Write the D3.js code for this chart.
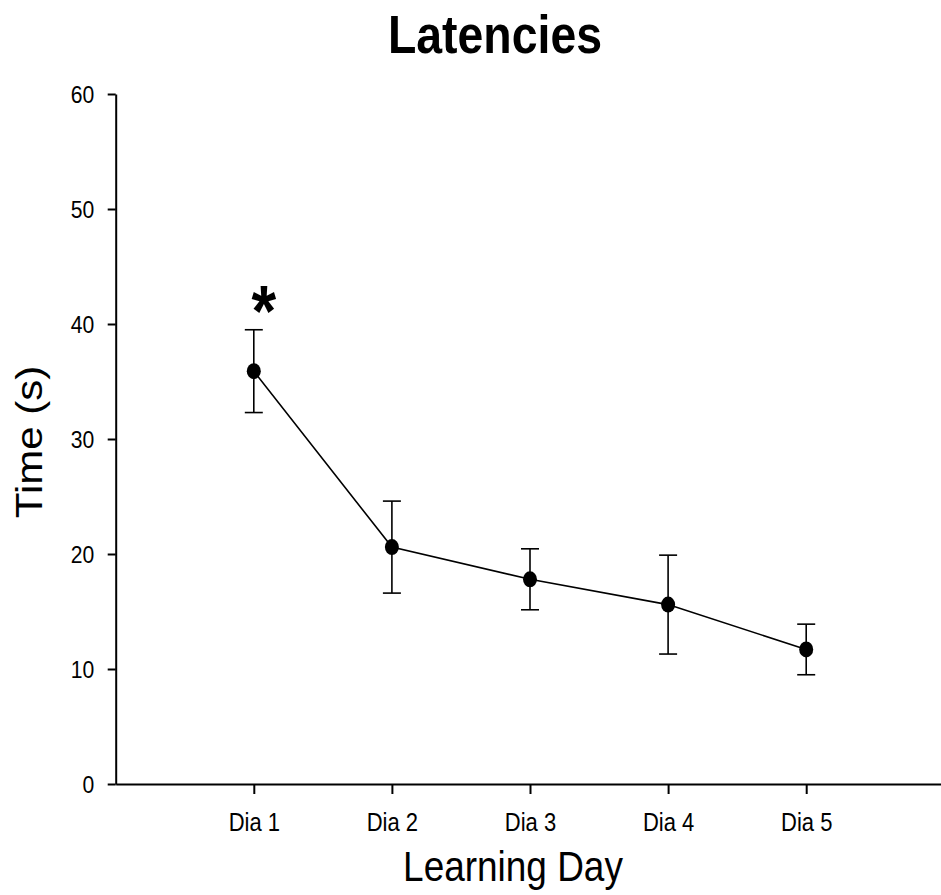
<!DOCTYPE html>
<html>
<head>
<meta charset="utf-8">
<script src="https://cdn.jsdelivr.net/npm/d3@7"></script>
<style>
  body { margin: 0; background: #fff; }
  svg { display: block; font-family: "Liberation Sans", Arial, sans-serif; }
</style>
</head>
<body>
<div id="chart"></div>
<script>
// data
var days = ["Dia 1", "Dia 2", "Dia 3", "Dia 4", "Dia 5"];
var latency = [35.9, 20.6, 17.8, 15.6, 11.7];
var sem = [3.6, 4.0, 2.65, 4.3, 2.2];
var yTicks = [0, 10, 20, 30, 40, 50, 60];
var significant = ["Dia 1"];

var svgWidth = 941;
var svgHeight = 895;
var squeeze = 0.88; // the original text looks a bit narrow

var svg = d3.select("#chart")
  .append("svg")
  .attr("width", svgWidth)
  .attr("height", svgHeight);

// scales
var x = d3.scaleLinear().domain([0, days.length + 1]).range([115.7, 944.3]);
var y = d3.scaleLinear().domain([0, 60]).range([784, 94]);

var data = days.map(function(d, i) {
  return { day: d, pos: i + 1, mean: latency[i], err: sem[i] };
});

//Axis
var leftAxis = d3.axisLeft(y).tickValues(yTicks).tickSize(8).tickSizeOuter(0);
var bottomAxis = d3.axisBottom(x)
  .tickValues(d3.range(1, days.length + 1))
  .tickFormat(function(d) { return days[d - 1]; })
  .tickSize(10).tickSizeOuter(0);

var yAxisG = svg.append("g")
  .attr("transform", "translate(" + x(0) + ",0)")
  .call(leftAxis);

yAxisG.selectAll("text")
  .attr("font-size", 24)
  .attr("font-family", "Liberation Sans, Arial, sans-serif")
  .attr("fill", "#000")
  .attr("x", -21.4 / squeeze)
  .attr("dy", "0.36em")
  .attr("transform", "scale(" + squeeze + ",1)");

var xAxisG = svg.append("g")
  .attr("transform", "translate(0," + y(0) + ")")
  .call(bottomAxis);

// squeeze x tick labels around their own centre
xAxisG.selectAll("text")
  .attr("font-size", 25)
  .attr("font-family", "Liberation Sans, Arial, sans-serif")
  .attr("fill", "#000")
  .attr("y", 46.7)
  .attr("dy", 0)
  .attr("transform", "scale(" + squeeze + ",1)");

svg.selectAll(".domain, .tick line")
  .attr("stroke", "#000")
  .attr("stroke-width", 2);

// line
var line = d3.line()
  .x(function(d) { return x(d.pos); })
  .y(function(d) { return y(d.mean); });

svg.append("path")
  .datum(data)
  .attr("fill", "none")
  .attr("stroke", "#000")
  .attr("stroke-width", 1.6)
  .attr("d", line);

// error bars
var errG = svg.selectAll(".err")
  .data(data)
  .enter()
  .append("g")
  .classed("err", true);

errG.append("line")
  .attr("x1", function(d) { return x(d.pos); })
  .attr("x2", function(d) { return x(d.pos); })
  .attr("y1", function(d) { return y(d.mean + d.err); })
  .attr("y2", function(d) { return y(d.mean - d.err); });

errG.append("line")
  .attr("x1", function(d) { return x(d.pos) - 9; })
  .attr("x2", function(d) { return x(d.pos) + 9; })
  .attr("y1", function(d) { return y(d.mean + d.err); })
  .attr("y2", function(d) { return y(d.mean + d.err); });

errG.append("line")
  .attr("x1", function(d) { return x(d.pos) - 9; })
  .attr("x2", function(d) { return x(d.pos) + 9; })
  .attr("y1", function(d) { return y(d.mean - d.err); })
  .attr("y2", function(d) { return y(d.mean - d.err); });

errG.selectAll("line")
  .attr("stroke", "#000")
  .attr("stroke-width", 1.6);

// points
svg.selectAll(".dot")
  .data(data)
  .enter()
  .append("ellipse")
  .classed("dot", true)
  .attr("cx", function(d) { return x(d.pos); })
  .attr("cy", function(d) { return y(d.mean); })
  .attr("rx", 7)
  .attr("ry", 8)
  .attr("fill", "#000");

// significance star
svg.selectAll(".star")
  .data(data.filter(function(d) { return significant.indexOf(d.day) >= 0; }))
  .enter()
  .append("text")
  .classed("star", true)
  .attr("transform", function(d) {
    return "translate(" + (x(d.pos) + 10) + "," + (y(d.mean + d.err) + 6) + ") scale(" + squeeze + ",1)";
  })
  .attr("text-anchor", "middle")
  .attr("font-size", 72)
  .attr("font-weight", "bold")
  .attr("fill", "#000")
  .text("*");

// title
svg.append("text")
  .attr("transform", "translate(495,53) scale(0.86,1)")
  .attr("text-anchor", "middle")
  .attr("font-size", 54)
  .attr("font-weight", "bold")
  .attr("fill", "#000")
  .text("Latencies");

// axis labels
svg.append("text")
  .attr("transform", "translate(513,881) scale(" + squeeze + ",1)")
  .attr("text-anchor", "middle")
  .attr("font-size", 42)
  .attr("fill", "#000")
  .text("Learning Day");

svg.append("text")
  .attr("transform", "translate(42,442) scale(0.9,1) rotate(-90)")
  .attr("text-anchor", "middle")
  .attr("font-size", 42)
  .attr("fill", "#000")
  .text("Time (s)");
</script>
</body>
</html>
